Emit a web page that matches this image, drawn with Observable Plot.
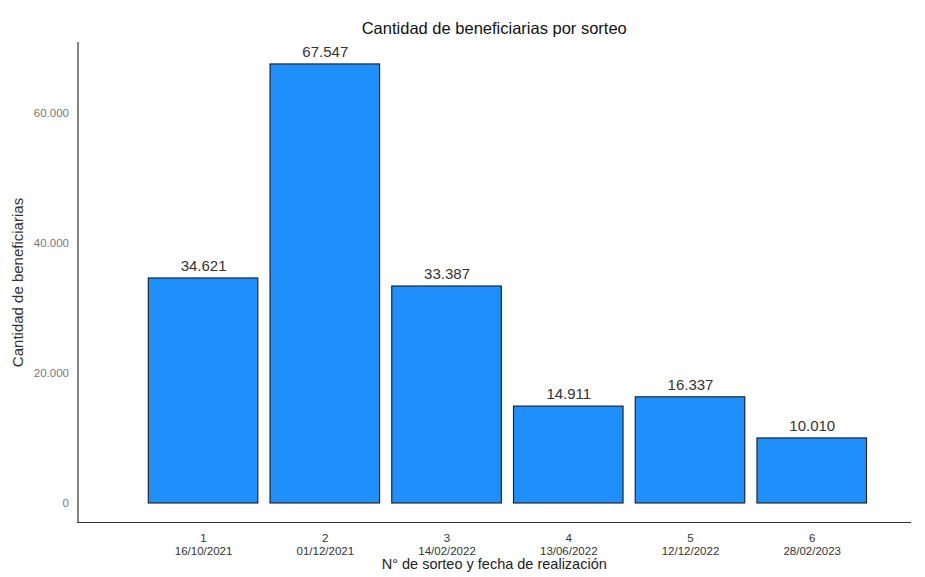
<!DOCTYPE html>
<html>
<head>
<meta charset="utf-8">
<script src="https://cdn.jsdelivr.net/npm/d3@7"></script>
<script src="https://cdn.jsdelivr.net/npm/@observablehq/plot@0.6"></script>
<style>
  html, body { margin: 0; padding: 0; background: #fff; }
  #chart svg { font-family: "Liberation Sans", Arial, sans-serif; display: block; }
</style>
</head>
<body>
<div id="chart"></div>
<script>
const sorteos = ["1", "2", "3", "4", "5", "6"];
const fechas = ["16/10/2021", "01/12/2021", "14/02/2022", "13/06/2022", "12/12/2022", "28/02/2023"];
const beneficiarias = [34621, 67547, 33387, 14911, 16337, 10010];
const yTicks = [0, 20000, 40000, 60000];
const title = "Cantidad de beneficiarias por sorteo";
const xLabel = "N° de sorteo y fecha de realización";
const yLabel = "Cantidad de beneficiarias";

const data = sorteos.map((s, i) => ({sorteo: s, fecha: fechas[i], valor: beneficiarias[i]}));
const esLocale = d3.formatLocale({decimal: ",", thousands: ".", grouping: [3], currency: ["$", ""]});
const fmt = esLocale.format(",d");

const chart = Plot.plot({
  width: 925,
  height: 577,
  marginTop: 42,
  marginBottom: 55,
  marginLeft: 77.5,
  marginRight: 15,
  style: {fontFamily: "Liberation Sans, Arial, sans-serif", background: "#fff"},
  x: {domain: sorteos, range: [142.2, 872.6], paddingInner: 0.1, paddingOuter: 0.05, round: false},
  y: {domain: [-2923, 70923]},
  marks: [
    Plot.frame({anchor: "left", stroke: "#333", strokeWidth: 1.2}),
    Plot.frame({anchor: "bottom", stroke: "#333", strokeWidth: 1.2}),
    Plot.axisY(yTicks, {tickSize: 0, tickPadding: 9, tickFormat: fmt, fontSize: 11.5, color: "#777", fill: "#777", label: null}),
    Plot.axisX({tickSize: 0, tickPadding: 11, fontSize: 11.5, color: "#333", fill: "#333",
      tickFormat: (d) => d, label: null}),
    Plot.axisX({tickSize: 0, tickPadding: 24, fontSize: 11.5, color: "#333", fill: "#333",
      tickFormat: (d) => fechas[sorteos.indexOf(d)], label: null}),
    Plot.barY(data, {x: "sorteo", y: "valor", fill: "#1E8FFB", stroke: "#1a1a1a", strokeWidth: 1.1}),
    Plot.text(data, {x: "sorteo", y: "valor", text: (d) => fmt(d.valor), dy: -12, fontSize: 15, fill: "#333"}),
    Plot.text([title], {frameAnchor: "top", dy: -20, fontSize: 16.5, fill: "#111"}),
    Plot.text([xLabel], {frameAnchor: "bottom", dy: 46, fontSize: 14.5, fill: "#222"}),
    Plot.text([yLabel], {frameAnchor: "left", textAnchor: "middle", dx: -60, rotate: -90, fontSize: 15, fill: "#333"})
  ]
});
document.getElementById("chart").appendChild(chart);
</script>
</body>
</html>
